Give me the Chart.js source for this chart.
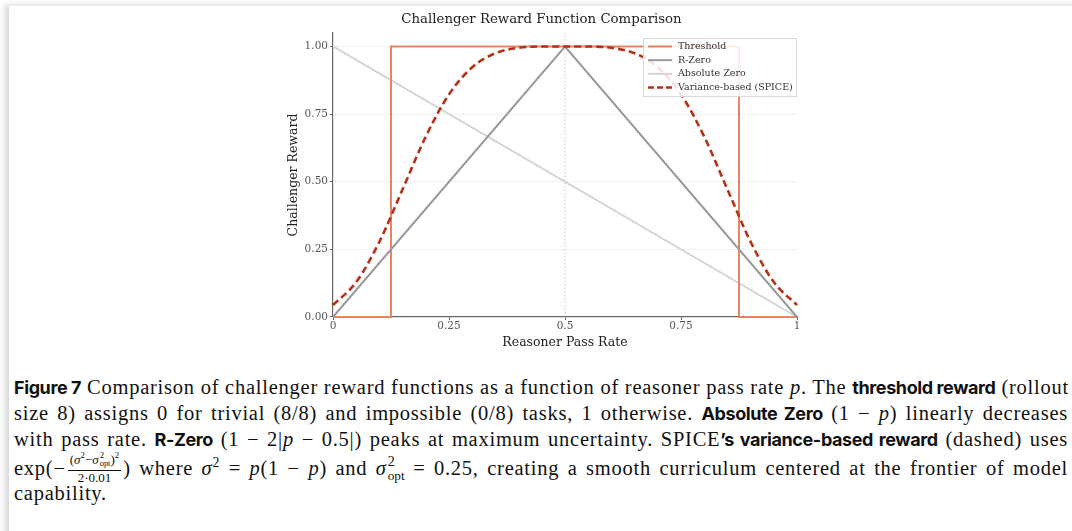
<!DOCTYPE html>
<html>
<head>
<meta charset="utf-8">
<script src="https://cdn.jsdelivr.net/npm/chart.js@4"></script>
<style>
  html, body { margin: 0; padding: 0; background: #fff; }
  body { width: 1072px; height: 531px; overflow: hidden; position: relative; }
  .page {
    position: absolute; left: 9px; top: 6px; width: 1080px; height: 540px;
    background: #fff; box-shadow: -4px -1px 6px rgba(0,0,0,0.16);
  }
  #wrap { position: absolute; left: 0; top: 0; width: 1072px; height: 356px; }
  .cap {
    position: absolute; left: 14px; width: 1054px; height: 26px; line-height: 26px;
    font-family: "Liberation Serif", "DejaVu Serif", serif; font-size: 20.5px;
    letter-spacing: 0.75px;
    color: #111; white-space: nowrap;
    text-align: justify; text-align-last: justify;
  }
  .cap.last { text-align-last: left; }
  .b { font-family: "Inter", "Noto Sans", sans-serif; font-weight: 700; font-size: 18px; letter-spacing: -0.4px; }
  .frac { display: inline-flex; flex-direction: column; align-items: center; vertical-align: middle; font-size: 13px; line-height: 13px; margin: 0 2px; letter-spacing: 0; position: relative; top: -2px; }
  .frac .num { border-bottom: 1px solid #111; padding: 0 2px 1px; }
  .ss { display: inline-flex; flex-direction: column; vertical-align: middle; font-size: 68%; line-height: 1.0; position: relative; top: -0.1em; margin-left: 1px; letter-spacing: 0; }
  .ss span:last-child { font-size: 95%; }
  i { font-style: italic; }
  sup { font-size: 68%; line-height: 0; }
</style>
</head>
<body>
<div class="page"></div>
<div id="wrap"><canvas id="chart"></canvas></div>

<div class="cap" style="top:374px"><span class="b">Figure 7</span> Comparison of challenger reward functions as a function of reasoner pass rate <i>p</i>. The <span class="b">threshold reward</span> (rollout</div>
<div class="cap" style="top:400px">size 8) assigns 0 for trivial (8/8) and impossible (0/8) tasks, 1 otherwise. <span class="b">Absolute Zero</span> (1 − <i>p</i>) linearly decreases</div>
<div class="cap" style="top:426px">with pass rate. <span class="b">R-Zero</span> (1 − 2|<i>p</i> − 0.5|) peaks at maximum uncertainty. SPICE<span class="b">’s variance-based reward</span> (dashed) uses</div>
<div class="cap" style="top:454px">exp(−<span class="frac"><span class="num">(<i>σ</i><sup>2</sup>−<i>σ</i><span class="ss"><span>2</span><span>opt</span></span>)<sup>2</sup></span><span>2·0.01</span></span>) where <i>σ</i><sup>2</sup> = <i>p</i>(1 − <i>p</i>) and <i>σ</i><span class="ss"><span>2</span><span>opt</span></span> = 0.25, creating a smooth curriculum centered at the frontier of model</div>
<div class="cap last" style="top:480px">capability.</div>

<script>
// ---- data ----
const thresholdX = [0, 0.125, 0.125, 0.875, 0.875, 1];
const thresholdY = [0, 0, 1, 1, 0, 0];
const rzeroX = [0, 0.5, 1];
const rzeroY = [0, 1, 0];
const absZeroX = [0, 1];
const absZeroY = [1, 0];
const spiceX = [0, 0.05, 0.1, 0.15, 0.2, 0.25, 0.3, 0.35, 0.4, 0.45, 0.5,
                0.55, 0.6, 0.65, 0.7, 0.75, 0.8, 0.85, 0.9, 0.95, 1];
const spiceY = [0.044, 0.129, 0.278, 0.472, 0.667, 0.823, 0.923, 0.975, 0.995, 1.0, 1.0,
                1.0, 0.995, 0.975, 0.923, 0.823, 0.667, 0.472, 0.278, 0.129, 0.044];
const midLineX = [0.5, 0.5];
const midLineY = [0, 1.05];
const xTicks = [0, 0.25, 0.5, 0.75, 1];
const xTickLabels = ['0', '0.25', '0.5', '0.75', '1'];
const yTicks = [0, 0.25, 0.5, 0.75, 1];
const yTickLabels = ['0.00', '0.25', '0.50', '0.75', '1.00'];

const pts = (xs, ys) => xs.map((x, i) => ({ x: x, y: ys[i] }));

const SERIF = '"DejaVu Serif", serif';

const legendItems = [
  { label: 'Threshold', color: '#E8845F', width: 2, dash: [] },
  { label: 'R-Zero', color: '#9a9a9a', width: 2, dash: [] },
  { label: 'Absolute Zero', color: '#d4d4d4', width: 2, dash: [] },
  { label: 'Variance-based (SPICE)', color: '#B3321A', width: 2.6, dash: [6, 3] }
];

// legend drawn inside the plot, top-right
const insideLegend = {
  id: 'insideLegend',
  afterDraw(chart) {
    const ctx = chart.ctx;
    const a = chart.chartArea;
    const w = 154, h = 59;
    const left = a.right - w, top = a.top + 5;
    ctx.save();
    ctx.fillStyle = 'rgba(255,255,255,0.85)';
    ctx.strokeStyle = '#d8d8d8';
    ctx.lineWidth = 1;
    ctx.fillRect(left, top, w, h);
    ctx.strokeRect(left + 0.5, top + 0.5, w - 1, h - 1);
    ctx.font = '9.5px ' + SERIF;
    ctx.textBaseline = 'middle';
    legendItems.forEach((it, i) => {
      const yy = top + 8.5 + i * 13.7;
      ctx.beginPath();
      ctx.strokeStyle = it.color;
      ctx.lineWidth = it.width;
      ctx.setLineDash(it.dash);
      ctx.moveTo(left + 5, yy);
      ctx.lineTo(left + 29, yy);
      ctx.stroke();
      ctx.setLineDash([]);
      ctx.fillStyle = '#333';
      ctx.fillText(it.label, left + 35, yy);
    });
    ctx.restore();
  }
};

new Chart(document.getElementById('chart'), {
  type: 'line',
  data: {
    datasets: [
      { label: 'mid', data: pts(midLineX, midLineY), borderColor: '#b8b8b8', borderWidth: 0.8,
        borderDash: [1.5, 2], pointRadius: 0, order: 6, clip: false },
      { label: 'Threshold', data: pts(thresholdX, thresholdY), borderColor: '#E8845F', borderWidth: 2,
        pointRadius: 0, order: 4, clip: 3 },
      { label: 'R-Zero', data: pts(rzeroX, rzeroY), borderColor: '#9a9a9a', borderWidth: 2,
        pointRadius: 0, order: 3, clip: 3 },
      { label: 'Absolute Zero', data: pts(absZeroX, absZeroY), borderColor: '#d4d4d4', borderWidth: 2,
        pointRadius: 0, order: 5, clip: 3 },
      { label: 'Variance-based (SPICE)', data: pts(spiceX, spiceY), borderColor: '#B3321A', borderWidth: 2.6,
        borderDash: [7, 4], pointRadius: 0, cubicInterpolationMode: 'monotone', order: 1, clip: 3 }
    ]
  },
  options: {
    responsive: true,
    maintainAspectRatio: false,
    animation: false,
    layout: { padding: { left: 286, right: 275, top: 0, bottom: 0 } },
    plugins: {
      legend: { display: false },
      tooltip: { enabled: false },
      title: {
        display: true,
        text: 'Challenger Reward Function Comparison',
        color: '#222',
        font: { family: SERIF, size: 13.3, weight: 'normal' },
        padding: { top: 12, bottom: 5 }
      }
    },
    scales: {
      x: {
        type: 'linear', min: 0, max: 1,
        afterBuildTicks: (s) => { s.ticks = xTicks.map(v => ({ value: v })); },
        afterFit: (s) => { s.height = 39; },
        ticks: {
          color: '#555', font: { family: SERIF, size: 10.5 }, padding: 0, maxRotation: 0,
          callback: (v) => xTickLabels[xTicks.indexOf(v)]
        },
        grid: { drawOnChartArea: false, drawTicks: true, tickLength: 3, tickColor: '#666' },
        border: { color: '#666', width: 1.2 },
        title: { display: true, text: 'Reasoner Pass Rate', color: '#222',
                 font: { family: SERIF, size: 12.5 }, padding: { top: 1, bottom: 6 } }
      },
      y: {
        type: 'linear', min: 0, max: 1.05,
        afterBuildTicks: (s) => { s.ticks = yTicks.map(v => ({ value: v })); },
        afterFit: (s) => { s.width = 47; },
        ticks: {
          color: '#555', font: { family: SERIF, size: 10.5 }, padding: 2,
          callback: (v) => yTickLabels[yTicks.indexOf(v)]
        },
        grid: { color: '#f1f1f1', lineWidth: 1, drawTicks: true, tickLength: 3, tickColor: '#666' },
        border: { color: '#666', width: 1.2 },
        title: { display: true, text: 'Challenger Reward', color: '#222',
                 font: { family: SERIF, size: 12.5 }, padding: { top: 0, bottom: 4 } }
      }
    }
  },
  plugins: [insideLegend]
});
</script>
</body>
</html>
